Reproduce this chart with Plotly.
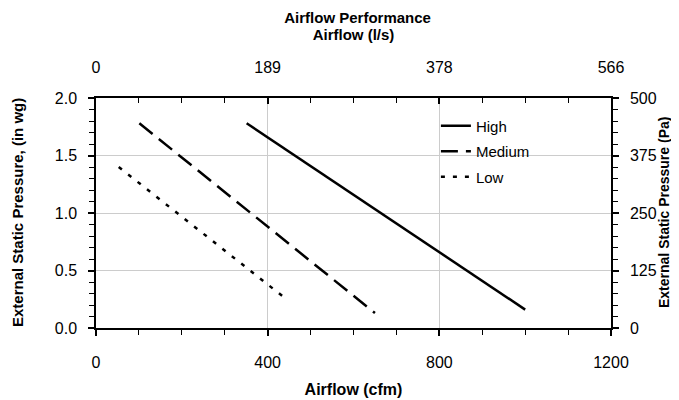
import plotly.graph_objects as go

# Data
high_cfm = [351, 1000]
high_inwg = [1.78, 0.16]
medium_cfm = [101, 650]
medium_inwg = [1.78, 0.13]
low_cfm = [53, 437]
low_inwg = [1.40, 0.27]

x_ticks_cfm = [0, 400, 800, 1200]
top_tick_labels = ["0", "189", "378", "566"]

PA_PER_INWG = 250.0

FAM = "Liberation Sans, Arial"
TICK_FONT = dict(family=FAM, size=16, color="#000")
TITLE_FONT = dict(family=FAM, size=15, color="#000", weight="bold")

fig = go.Figure()
fig.add_trace(go.Scatter(x=high_cfm, y=high_inwg, mode="lines", name="High",
                         line=dict(color="#000", width=2.5, dash="solid"),
                         legendgroup="h"))
fig.add_trace(go.Scatter(x=medium_cfm, y=medium_inwg, mode="lines", name="Medium",
                         line=dict(color="#000", width=2.5, dash="17px,8px"),
                         legendgroup="m"))
fig.add_trace(go.Scatter(x=low_cfm, y=low_inwg, mode="lines", name="Low",
                         line=dict(color="#000", width=2.5, dash="4px,8px"),
                         legendgroup="l"))
# invisible trace anchoring secondary axes
fig.add_trace(go.Scatter(x=high_cfm, y=[v * PA_PER_INWG for v in high_inwg],
                         xaxis="x2", yaxis="y2", mode="lines",
                         line=dict(width=0, color="rgba(0,0,0,0)"),
                         showlegend=False, hoverinfo="skip"))

common_axis = dict(showline=True, linecolor="#000", linewidth=1.5,
                   tickfont=TICK_FONT, tickcolor="#000", zeroline=False)

top_alias = {str(v): t for v, t in zip(x_ticks_cfm, top_tick_labels)}

PLOT_W = 679 - 88 - 76

fig.update_layout(
    width=679, height=400,
    margin=dict(l=88, r=76, t=90, b=66),
    paper_bgcolor="white", plot_bgcolor="white",
    showlegend=True,
    legend=dict(x=0.66, y=0.95, xanchor="left", yanchor="top",
                font=dict(family=FAM, size=15, color="#000"),
                bgcolor="rgba(0,0,0,0)", tracegroupgap=3),
    title=dict(text="Airflow Performance", x=0.508, xref="paper", xanchor="center",
               y=0.976, yanchor="middle", font=TITLE_FONT),
    xaxis=dict(range=[0, 1200], tick0=0, dtick=400,
               ticks="outside", ticklen=6, tickwidth=1.5,
               minor=dict(dtick=100, ticks="outside", ticklen=5, tickcolor="#000", tickwidth=1.2, showgrid=False),
               showgrid=True, gridcolor="#cccccc", gridwidth=1,
               ticklabelstandoff=13,
               title=dict(text="Airflow (cfm)", font=dict(TITLE_FONT, size=16), standoff=14),
               **common_axis),
    xaxis2=dict(range=[0, 1200], overlaying="x", side="top", anchor="y",
                tick0=0, dtick=400, labelalias=top_alias,
                ticks="inside", ticklen=6, tickwidth=1.5,
                minor=dict(dtick=100, ticks="inside", ticklen=5, tickcolor="#000", tickwidth=1.2, showgrid=False),
                showgrid=False, ticklabelstandoff=17,
                title=dict(text="Airflow (l/s)", font=TITLE_FONT, standoff=15),
                **common_axis),
    yaxis=dict(range=[0, 2.0], tick0=0, dtick=0.5, tickformat=".1f",
               ticks="outside", ticklen=6, tickwidth=1.5,
               minor=dict(dtick=0.1, ticks="outside", ticklen=5, tickcolor="#000", tickwidth=1.2, showgrid=False),
               showgrid=True, gridcolor="#cccccc", gridwidth=1,
               ticklabelstandoff=8,
               **common_axis),
    yaxis2=dict(range=[0, 500], overlaying="y", side="right", anchor="x",
                tick0=0, dtick=125,
                ticks="outside", ticklen=6, tickwidth=1.5,
                minor=dict(dtick=25, ticks="outside", ticklen=5, tickcolor="#000", tickwidth=1.2, showgrid=False),
                showgrid=False, ticklabelstandoff=8,
                **common_axis),
    annotations=[
        dict(text="External Static Pressure, (in wg)", textangle=-90,
             xref="paper", x=(9 - 88) / PLOT_W, xanchor="center",
             yref="paper", y=0.5, yanchor="middle", showarrow=False, font=TITLE_FONT),
        dict(text="External Static Pressure (Pa)", textangle=-90,
             xref="paper", x=(656 - 88) / PLOT_W, xanchor="center",
             yref="paper", y=0.5, yanchor="middle", showarrow=False,
             font=dict(TITLE_FONT, size=14)),
    ],
)

fig.write_html("out.html")
